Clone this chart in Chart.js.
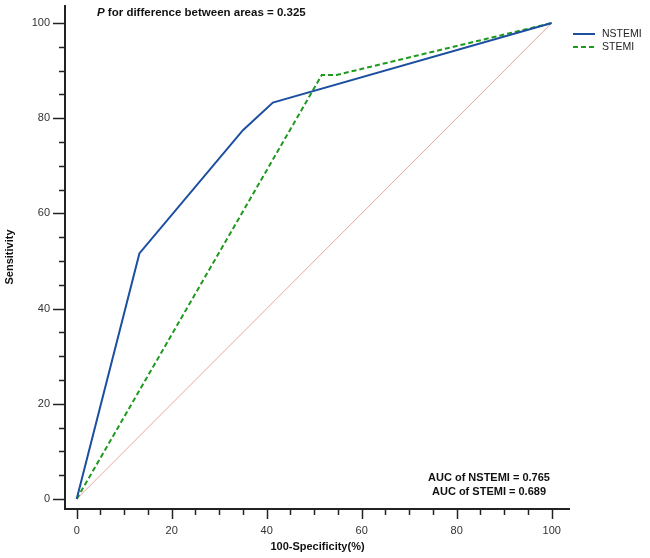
<!DOCTYPE html>
<html>
<head>
<meta charset="utf-8">
<script src="https://cdn.jsdelivr.net/npm/chart.js@4.4.1/dist/chart.umd.min.js"></script>
<style>
  html, body { margin: 0; padding: 0; background: #fff; }
  #wrap { width: 650px; height: 558px; }
</style>
</head>
<body>
<div id="wrap"><canvas id="myChart" width="650" height="558"></canvas></div>
<script>
// ROC curves, values
const nstemiX = [0, 13.2, 35.0, 41.3, 100];
const nstemiY = [0, 51.6, 77.5, 83.3, 100];
const stemiX = [0, 51.6, 54.7, 100];
const stemiY = [0, 89.1, 89.1, 100];
const refX = [0, 100];
const refY = [0, 100];

const xTicks = [0, 20, 40, 60, 80, 100];
const yTicks = [0, 20, 40, 60, 80, 100];
const minorStep = 5;

const pText = 'for difference between areas = 0.325';
const aucLines = ['AUC of NSTEMI = 0.765', 'AUC of STEMI = 0.689'];

const toPts = (xs, ys) => xs.map((x, i) => ({x: x, y: ys[i]}));

let ctx = document.getElementById('myChart').getContext('2d');

const axesPlugin = {
  id: 'axesPlugin',
  afterDraw: (chart) => {
    let c = chart.ctx,
        xs = chart.scales.x,
        ys = chart.scales.y,
        area = chart.chartArea;
    c.save();
    c.strokeStyle = '#222';
    c.lineWidth = 2;
    c.lineCap = 'butt';
    // axis lines
    c.beginPath();
    c.moveTo(area.left, area.top);
    c.lineTo(area.left, area.bottom);
    c.lineTo(area.right, area.bottom);
    c.stroke();
    // ticks, major + minor
    c.lineWidth = 1.5;
    for (let v = 0; v <= 100; v += minorStep) {
      let major = yTicks.includes(v);
      let py = Math.round(ys.getPixelForValue(v)) + 0.5;
      c.beginPath();
      c.moveTo(area.left, py);
      c.lineTo(area.left - (major ? 12 : 6), py);
      c.stroke();
    }
    for (let v = 0; v <= 100; v += minorStep) {
      let major = xTicks.includes(v);
      let px = Math.round(xs.getPixelForValue(v)) + 0.5;
      c.beginPath();
      c.moveTo(px, area.bottom);
      c.lineTo(px, area.bottom + (major ? 10 : 6));
      c.stroke();
    }

    // p value text
    c.fillStyle = '#111';
    c.textBaseline = 'middle';
    c.textAlign = 'left';
    c.font = 'italic bold 11.5px "Liberation Sans", Arial, sans-serif';
    c.fillText('P', 97, 13);
    let pw = c.measureText('P ').width;
    c.font = 'bold 11.5px "Liberation Sans", Arial, sans-serif';
    c.fillText(pText, 97 + pw, 13);

    // AUC text
    c.textAlign = 'center';
    c.font = 'bold 11px "Liberation Sans", Arial, sans-serif';
    c.fillText(aucLines[0], 489, 478);
    c.fillText(aucLines[1], 489, 492);

    // legend
    c.textAlign = 'left';
    c.font = '10.5px "Liberation Sans", Arial, sans-serif';
    chart.data.datasets.slice(0, 2).forEach((ds, i) => {
      let ly = 34 + i * 13;
      c.strokeStyle = ds.borderColor;
      c.lineWidth = 2;
      c.setLineDash(ds.borderDash || []);
      c.beginPath();
      c.moveTo(573, ly);
      c.lineTo(595, ly);
      c.stroke();
      c.setLineDash([]);
      c.fillStyle = '#222';
      c.fillText(ds.label, 602, ly);
    });
    c.restore();
  }
};

let chart = new Chart(ctx, {
  type: 'scatter',
  data: {
    datasets: [
      {
        label: 'NSTEMI',
        data: toPts(nstemiX, nstemiY),
        showLine: true,
        borderColor: '#1c4fa0',
        borderWidth: 2,
        pointRadius: 0,
        tension: 0
      },
      {
        label: 'STEMI',
        data: toPts(stemiX, stemiY),
        showLine: true,
        borderColor: '#1e9a1e',
        borderWidth: 2,
        borderDash: [5, 3],
        pointRadius: 0,
        tension: 0
      },
      {
        label: 'Reference',
        data: toPts(refX, refY),
        showLine: true,
        borderColor: '#e9a5a0',
        borderWidth: 1,
        pointRadius: 0,
        tension: 0
      }
    ]
  },
  options: {
    responsive: false,
    animation: false,
    layout: { padding: { top: 5, right: 80, left: 0, bottom: 0 } },
    plugins: {
      legend: { display: false },
      tooltip: { enabled: false }
    },
    scales: {
      x: {
        type: 'linear',
        min: -2.46,
        max: 103.85,
        afterBuildTicks: (scale) => { scale.ticks = xTicks.map(v => ({value: v})); },
        afterFit: (scale) => {
          scale.height = 49;
          scale.paddingLeft = 0;
          scale.paddingRight = 0;
        },
        grid: { display: false, drawTicks: false },
        border: { display: false },
        ticks: {
          padding: 15,
          color: '#333',
          font: { family: '"Liberation Sans", Arial, sans-serif', size: 11 }
        },
        title: {
          display: true,
          text: '100-Specificity(%)',
          color: '#111',
          padding: { top: 0, bottom: 4 },
          font: { family: '"Liberation Sans", Arial, sans-serif', size: 11, weight: 'bold' }
        }
      },
      y: {
        type: 'linear',
        min: -2.1,
        max: 103.8,
        afterBuildTicks: (scale) => { scale.ticks = yTicks.map(v => ({value: v})); },
        afterFit: (scale) => {
          scale.width = 65;
          scale.paddingTop = 0;
          scale.paddingBottom = 0;
        },
        grid: { display: false, drawTicks: false },
        border: { display: false },
        ticks: {
          padding: 15,
          color: '#333',
          font: { family: '"Liberation Sans", Arial, sans-serif', size: 11 }
        },
        title: {
          display: true,
          text: 'Sensitivity',
          color: '#111',
          padding: { top: 3, bottom: 0 },
          font: { family: '"Liberation Sans", Arial, sans-serif', size: 11, weight: 'bold' }
        }
      }
    }
  },
  plugins: [axesPlugin]
});
</script>
</body>
</html>
